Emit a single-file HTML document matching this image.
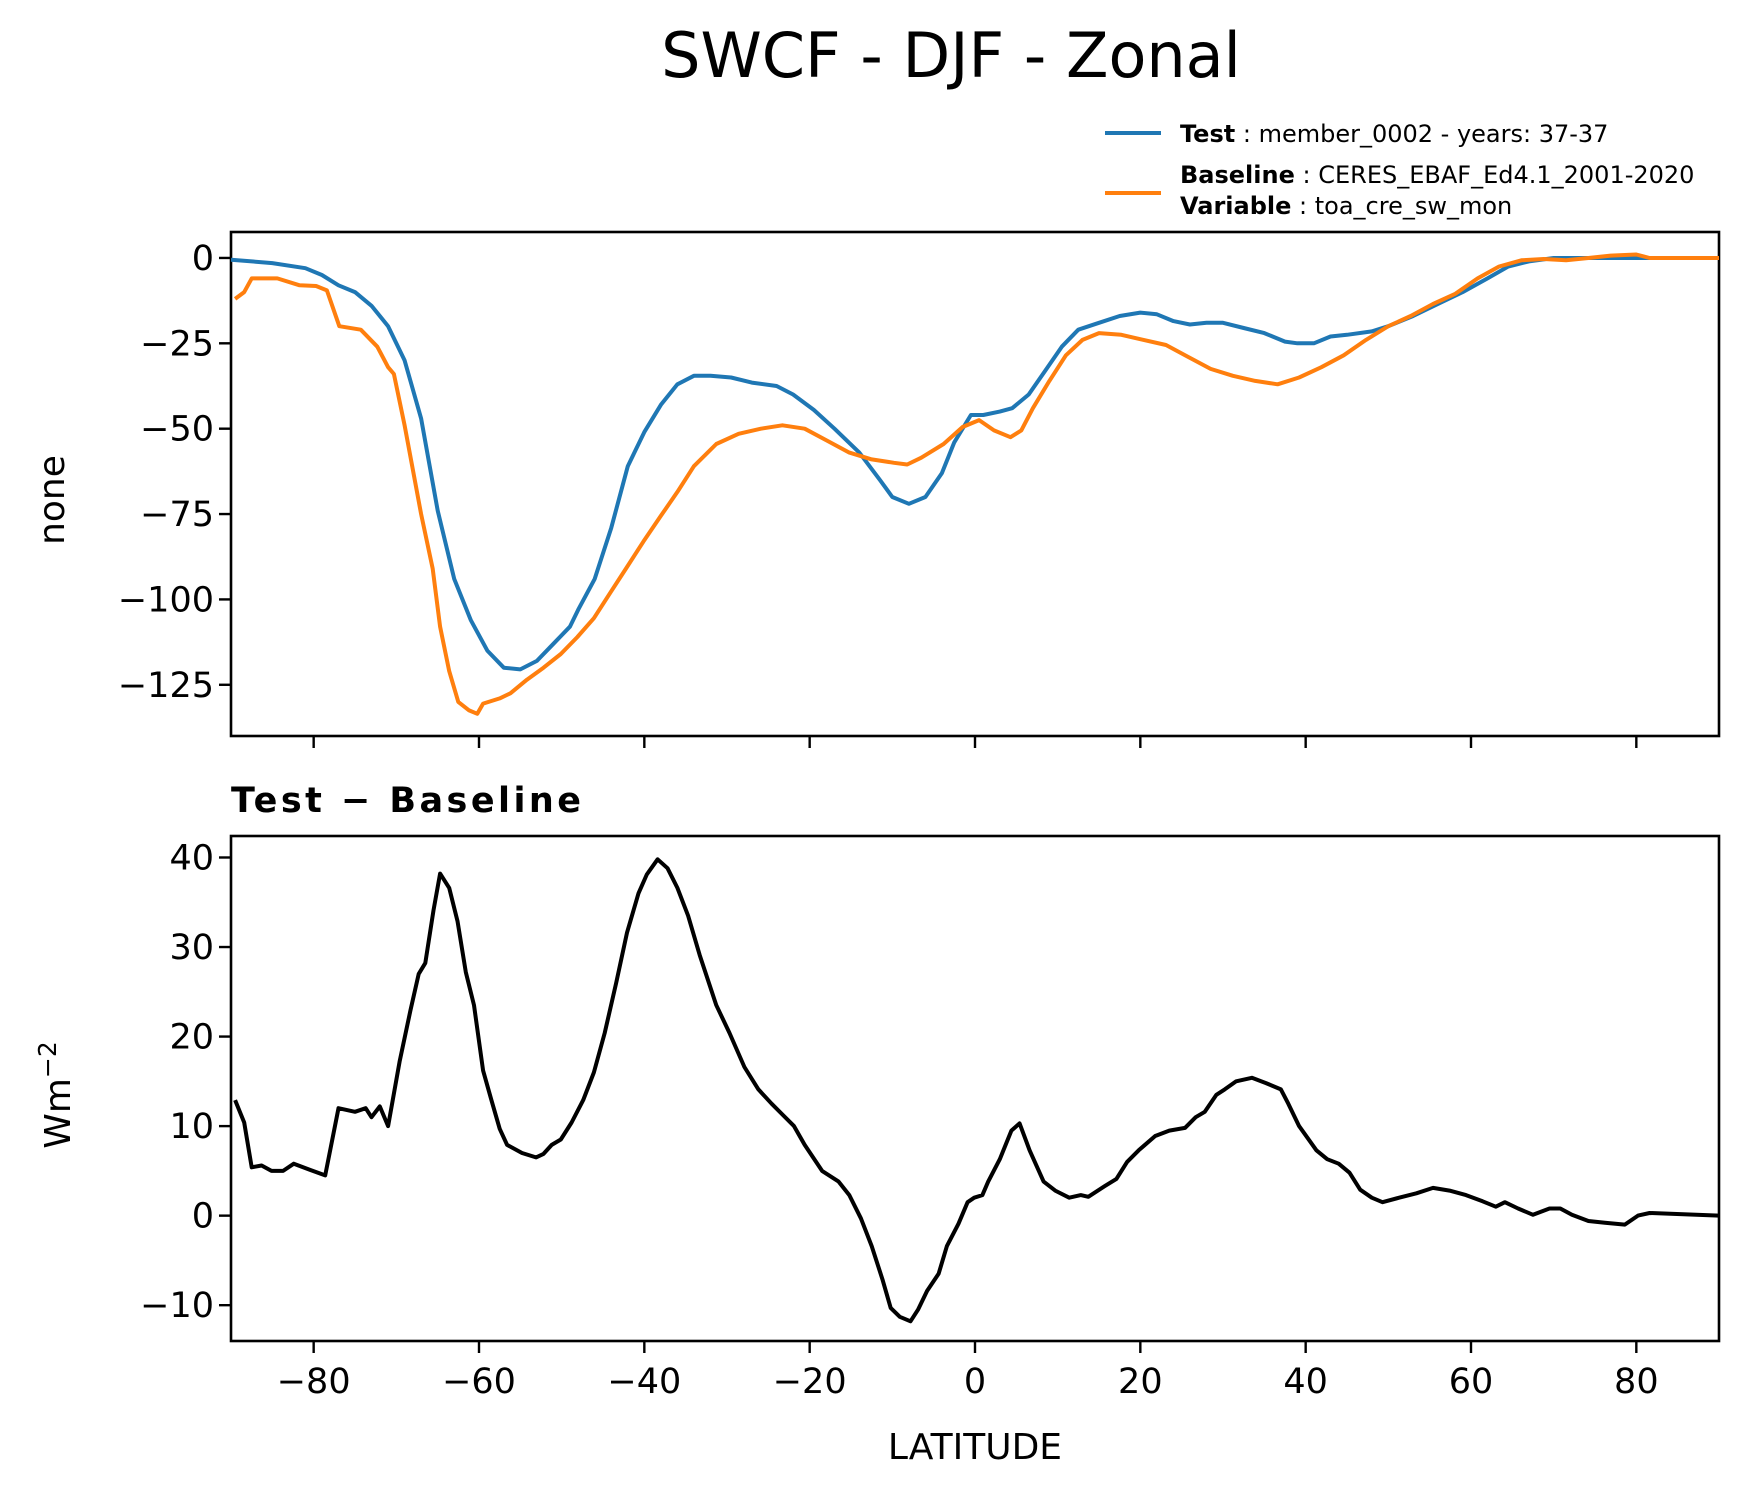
<!DOCTYPE html>
<html><head><meta charset="utf-8"><style>
html,body{margin:0;padding:0;background:#fff}
svg{display:block;font-family:"DejaVu Sans","Liberation Sans",sans-serif}
</style></head><body>
<svg id="chart" width="1748" height="1496" viewBox="0 0 1748 1496" xmlns="http://www.w3.org/2000/svg">
<text x="951" y="77" font-size="62" text-anchor="middle">SWCF - DJF - Zonal</text>
<g>
<line x1="1105" y1="133" x2="1161" y2="133" stroke="#1f77b4" stroke-width="4"/>
<text x="1180" y="142" font-size="24"><tspan font-weight="bold">Test</tspan> : member_0002 - years: 37-37</text>
<line x1="1105" y1="193" x2="1161" y2="193" stroke="#ff7f0e" stroke-width="4"/>
<text x="1180" y="183" font-size="24"><tspan font-weight="bold">Baseline</tspan> : CERES_EBAF_Ed4.1_2001-2020</text>
<text x="1180" y="214" font-size="24"><tspan font-weight="bold">Variable</tspan> : toa_cre_sw_mon</text>
</g>
<g id="top"></g>
<g id="bot"></g>
<text x="231" y="812" font-size="35" font-weight="bold" textLength="350" lengthAdjust="spacing">Test − Baseline</text>
<text x="975" y="1459" font-size="36" text-anchor="middle">LATITUDE</text>
<text transform="translate(64,500) rotate(-90)" font-size="36" text-anchor="middle">none</text>
<text transform="translate(70,1095) rotate(-90)" font-size="36" text-anchor="middle">Wm<tspan font-size="25" dy="-14">−2</tspan></text>
</svg>
<script>
const testLat=[-90,-85,-81,-79,-77,-75,-73,-71,-69,-67,-65,-63,-61,-59,-57,-55,-53,-51,-49,-48,-46,-44,-42,-40,-38,-36,-34,-32,-29.5,-27,-24,-22,-19.5,-17,-14,-11.5,-10,-8,-6,-4,-2.5,-0.5,1,3,4.5,6.5,8.5,10.5,12.5,15,17.5,20,22,24,26,28,30,32.5,35,37.5,39,41,43,45,48,50,53,56,59,62,64.5,67,70,90];
const testVal=[-0.5,-1.5,-3,-5,-8,-10,-14,-20,-30,-47,-74,-94,-106,-115,-120,-120.5,-118,-113,-108,-103,-94,-79,-61,-51,-43,-37,-34.5,-34.5,-35,-36.5,-37.5,-40,-44.5,-50,-57,-65,-70,-72,-70,-63,-54,-46,-46,-45,-44,-40,-33,-26,-21,-19,-17,-16,-16.5,-18.5,-19.5,-19,-19,-20.5,-22,-24.5,-25,-25,-23,-22.5,-21.5,-20,-17,-13.5,-10,-6,-2.5,-1,0,0];
const baseLat=[-89.5,-88.4,-87.5,-84.4,-81.7,-79.7,-78.4,-76.9,-74.3,-72.3,-71,-70.3,-69,-67,-65.6,-64.7,-63.6,-62.5,-61.2,-60.2,-59.5,-57.5,-56.2,-54.2,-52.2,-50.1,-48.1,-46.1,-44.1,-42.1,-40.1,-38,-36,-34,-31.3,-28.6,-25.9,-23.3,-20.6,-17.9,-15.2,-12.5,-9.8,-8.2,-6.5,-3.8,-1.5,0.5,2.3,4.3,5.6,7,9,11,13,15,17.7,20.4,23.1,25.8,28.5,31.2,33.9,36.6,39.2,41.9,44.6,47.3,50,52.7,55.4,58.1,60.8,63.4,66.1,68.8,71.5,74.2,76.9,80,81.6,90];
const baseVal=[-12,-10,-6,-6,-8,-8.2,-9.5,-20,-21,-26,-32,-34,-49,-75,-91,-108,-121,-130,-132.5,-133.5,-130.5,-129,-127.5,-123.5,-120,-116,-111,-105.5,-98,-90.5,-83,-75.5,-68.5,-61,-54.5,-51.5,-50,-49,-50,-53.5,-57,-59,-60,-60.5,-58.5,-54.5,-49.5,-47.5,-50.5,-52.5,-50.5,-44,-36,-28.5,-24,-22,-22.5,-24,-25.5,-29,-32.5,-34.5,-36,-37,-35,-32,-28.5,-24,-20,-17,-13.5,-10.5,-6,-2.5,-0.7,-0.3,-0.7,0,0.7,1,0,0];
const diffLat=[-89.5,-88.4,-87.5,-86.3,-85.1,-83.7,-82.4,-80.4,-78.6,-77,-75,-73.7,-73,-72,-71,-69.6,-68.3,-67.3,-66.5,-65.5,-64.7,-63.6,-62.6,-61.6,-60.6,-59.5,-58.5,-57.5,-56.6,-54.8,-53.1,-52.2,-51.2,-50.1,-48.8,-47.4,-46.1,-44.8,-43.4,-42.1,-40.7,-39.7,-38.4,-37.2,-36,-34.7,-33.3,-31.3,-29.7,-27.9,-26.2,-24.6,-23.3,-21.9,-20.6,-18.5,-16.5,-15.2,-13.8,-12.5,-11.2,-10.2,-9.1,-7.8,-6.9,-5.8,-4.4,-3.4,-2,-0.9,-0.1,0.9,1.6,3,4.4,5.4,6.6,8.3,9.7,11.4,12.8,13.7,15.7,17.1,18.4,19.8,21.8,23.5,25.4,26.7,27.8,29.2,30.2,31.6,33.5,35.2,37,37.9,39.2,41.3,42.6,44,45.3,46.6,48,49.3,51.3,53.4,55.4,57.4,59.4,61.4,63,64.1,65.7,67.5,69.5,70.8,72.2,74.2,76.2,78.6,80.2,81.6,90];
const diffVal=[12.9,10.4,5.4,5.6,5,5,5.8,5.1,4.5,12,11.6,12,11,12.2,10,17.2,22.9,27,28.2,34.1,38.2,36.6,32.9,27.2,23.5,16.2,12.9,9.7,7.9,7,6.5,6.9,7.9,8.5,10.4,12.9,16,20.4,26,31.6,36,38.1,39.8,38.8,36.6,33.5,29.1,23.5,20.4,16.6,14.1,12.5,11.3,10,7.9,5,3.8,2.3,-0.3,-3.4,-7.1,-10.3,-11.3,-11.8,-10.5,-8.4,-6.5,-3.4,-0.9,1.5,2,2.3,3.8,6.3,9.5,10.3,7.3,3.8,2.8,2,2.3,2.1,3.3,4.1,6,7.3,8.9,9.5,9.8,11,11.6,13.5,14.1,15,15.4,14.8,14.1,12.5,10,7.3,6.3,5.8,4.8,2.9,2,1.5,2,2.5,3.1,2.8,2.3,1.6,1,1.5,0.8,0.1,0.8,0.8,0.1,-0.6,-0.8,-1,0,0.3,0];
const xTicks=[-80,-60,-40,-20,0,20,40,60,80];
const topTicks=[0,-25,-50,-75,-100,-125];
const botTicks=[40,30,20,10,0,-10];

const NS='http://www.w3.org/2000/svg';
const X0=231,X1=1719;
function xs(v){return X0+(v+90)/180*(X1-X0);}
function mk(parent,tag,attrs){const e=document.createElementNS(NS,tag);for(const k in attrs)e.setAttribute(k,attrs[k]);parent.appendChild(e);return e;}
function panel(g,top,bottom,ymin,ymax,yt,showXLabels){
  const ys=v=>bottom-(v-ymin)/(ymax-ymin)*(bottom-top);
  const frame=mk(g,'rect',{x:X0,y:top,width:X1-X0,height:bottom-top,fill:'none',stroke:'#000','stroke-width':2.6});
  
  
  yt.forEach(t=>{
    const l=mk(g,'line',{x1:X0-12,x2:X0,y1:ys(t),y2:ys(t),stroke:'#000','stroke-width':2.4});
    
    
    const tx=mk(g,'text',{x:X0-17,y:ys(t)+12,'font-size':35,'text-anchor':'end'});
    tx.textContent=t<0?'−'+Math.abs(t):String(t);
    
    
  });
  xTicks.forEach(t=>{
    const l=mk(g,'line',{x1:xs(t),x2:xs(t),y1:bottom,y2:bottom+12,stroke:'#000','stroke-width':2.4});
    
    
    if(showXLabels){
      const tx=mk(g,'text',{x:xs(t),y:bottom+52,'font-size':35,'text-anchor':'middle'});
      tx.textContent=t<0?'−'+Math.abs(t):String(t);
      
      
    }
  });
  return ys;
}
function line(g,ys,lat,val,color,name){
  const d=lat.map((a,i)=>(i?'L':'M')+xs(a).toFixed(1)+','+ys(val[i]).toFixed(1)).join('');
  const p=mk(g,'path',{d:d,fill:'none',stroke:color,'stroke-width':4,'stroke-linejoin':'round'});
  
  
}
const gt=document.getElementById('top'),gb=document.getElementById('bot');
const ysT=panel(gt,232,736,-140,7.6,topTicks,false);
line(gt,ysT,testLat,testVal,'#1f77b4','test-line');
line(gt,ysT,baseLat,baseVal,'#ff7f0e','baseline-line');
const ysB=panel(gb,836,1341,-14,42.4,botTicks,true);
line(gb,ysB,diffLat,diffVal,'#000','difference-line');
</script>
</body></html>
